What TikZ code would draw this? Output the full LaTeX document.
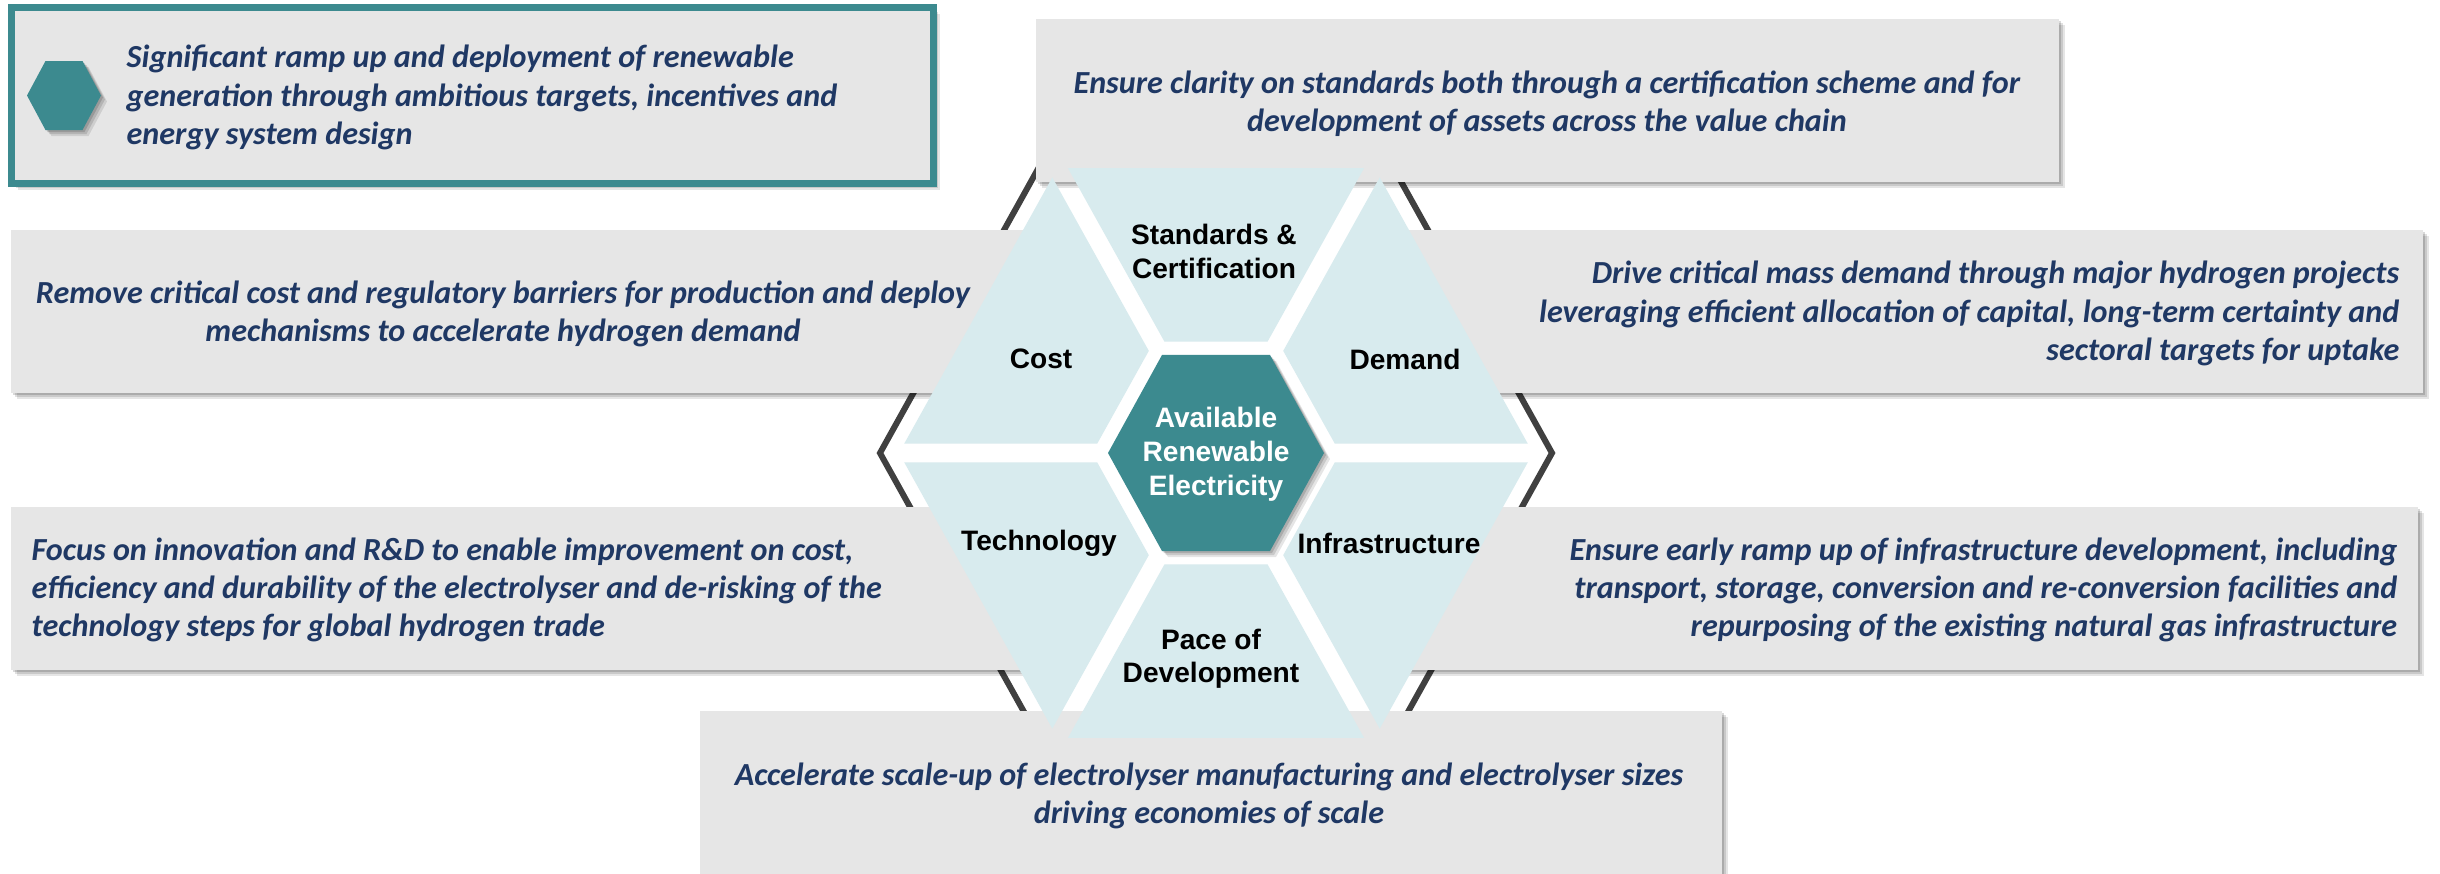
\documentclass[tikz,border=0pt]{standalone}
\usepackage{fontspec}
\setmainfont{Carlito}
\newfontfamily\labelfont{Liberation Sans}
\usetikzlibrary{shadows}

\definecolor{navy}{RGB}{31,56,100}
\definecolor{boxgray}{RGB}{230,230,230}
\definecolor{tealc}{RGB}{60,138,143}
\definecolor{paleblue}{RGB}{216,235,238}
\definecolor{rimgray}{RGB}{64,64,64}

\tikzset{
  softshadow/.style={
    general shadow={fill=black,opacity=.10,shadow xshift=.6mm,shadow yshift=-.6mm},
    general shadow={fill=black,opacity=.12,shadow xshift=.4mm,shadow yshift=-.4mm},
    general shadow={fill=black,opacity=.15,shadow xshift=.2mm,shadow yshift=-.2mm}},
  infobox/.style={fill=boxgray,softshadow},
  keybox/.style={fill=boxgray,draw=tealc,line width=.7mm,softshadow},
  rim/.style={draw=rimgray,line width=.6mm,line join=miter},
  piece/.style={fill=paleblue},
  core/.style={fill=tealc,softshadow},
  boxtext/.style={font=\fontsize{9.15}{10.9}\selectfont\bfseries\itshape,text=navy,inner sep=0pt},
  lab/.style={font=\labelfont\bfseries\fontsize{8}{9.5}\selectfont,text=black,align=center,inner sep=0pt},
  corelab/.style={lab,text=white,font=\labelfont\bfseries\fontsize{8}{9.7}\selectfont}
}

\begin{document}
\begin{tikzpicture}[x=0.1mm,y=-0.1mm]
\useasboundingbox (0,0) rectangle (2440,873);
\clip (0,0) rectangle (2440,873);
\fill[white] (0,0) rectangle (2440,873);

% dark hexagonal rim, partly hidden by the boxes
\begin{scope}[shift={(1216,453)},yscale=1.038]
  \draw[rim] (0:336) -- (60:336) -- (120:336) -- (180:336) -- (240:336) -- (300:336) -- cycle;
\end{scope}

% text boxes
\path[keybox] (11.5,7.5) rectangle (933.5,183.5);
\path[infobox] (1036,19) rectangle (2059,182);
\path[infobox] (11,230) rectangle (1057,393);
\path[infobox] (1375,230) rectangle (2423,393);
\path[infobox] (11,507) rectangle (1050,670);
\path[infobox] (1382,507) rectangle (2418,670);
\path[infobox] (700,711) rectangle (1722,890);

% small hexagon icon
\path[core] (27,95.5) -- (45.5,61) -- (82.5,61) -- (101,95.5) -- (82.5,130) -- (45.5,130) -- cycle;

% six pale segments of the ring
\begin{scope}[shift={(1216,453)},yscale=1.038]
  \foreach \k in {0,...,5}{
    \fill[piece,rotate=60*\k] ({317-0.577*9},9) -- ({158.5+0.577*9},{274.5-9})
      -- ({62+0.577*9},{107.4-9}) -- ({124-0.577*9},9) -- cycle;
  }
\end{scope}

% central hexagon
\begin{scope}[shift={(1216,453)},yscale=1.048]
  \path[core] (0:108) -- (60:108) -- (120:108) -- (180:108) -- (240:108) -- (300:108) -- cycle;
\end{scope}

% box texts
\node[boxtext,align=left,anchor=west] (renew) at (126,97.5)
  {Significant ramp up and deployment of renewable\\generation through ambitious targets, incentives and\\energy system design};
\node[boxtext,align=center] (stdtxt) at (1547,103.5)
  {Ensure clarity on standards both through a certification scheme and for\\development of assets across the value chain};
\node[boxtext,align=center] (costtxt) at (503,314)
  {Remove critical cost and regulatory barriers for production and deploy\\mechanisms to accelerate hydrogen demand};
\node[boxtext,align=right,anchor=east] (demtxt) at (2400,313.5)
  {Drive critical mass demand through major hydrogen projects\\leveraging efficient allocation of capital, long-term certainty and\\sectoral targets for uptake};
\node[boxtext,align=left,anchor=west] (techtxt) at (31,590)
  {Focus on innovation and R\&D to enable improvement on cost,\\efficiency and durability of the electrolyser and de-risking of the\\technology steps for global hydrogen trade};
\node[boxtext,align=right,anchor=east] (infratxt) at (2398,590)
  {Ensure early ramp up of infrastructure development, including\\transport, storage, conversion and re-conversion facilities and\\repurposing of the existing natural gas infrastructure};
\node[boxtext,align=center] (pacetxt) at (1209,796)
  {Accelerate scale-up of electrolyser manufacturing and electrolyser sizes\\driving economies of scale};

% segment labels
\node[lab] (std) at (1214,251.5) {Standards \&\\Certification};
\node[lab] (cost) at (1041,359) {Cost};
\node[lab] (dem) at (1405,359) {Demand};
\node[lab] (tech) at (1039,543) {Technology};
\node[lab] (infra) at (1389,543) {Infrastructure};
\node[lab] (pace) at (1211,659) {Pace of\\Development};
\node[corelab] (core) at (1216,454) {Available\\Renewable\\Electricity};
\end{tikzpicture}
\end{document}
